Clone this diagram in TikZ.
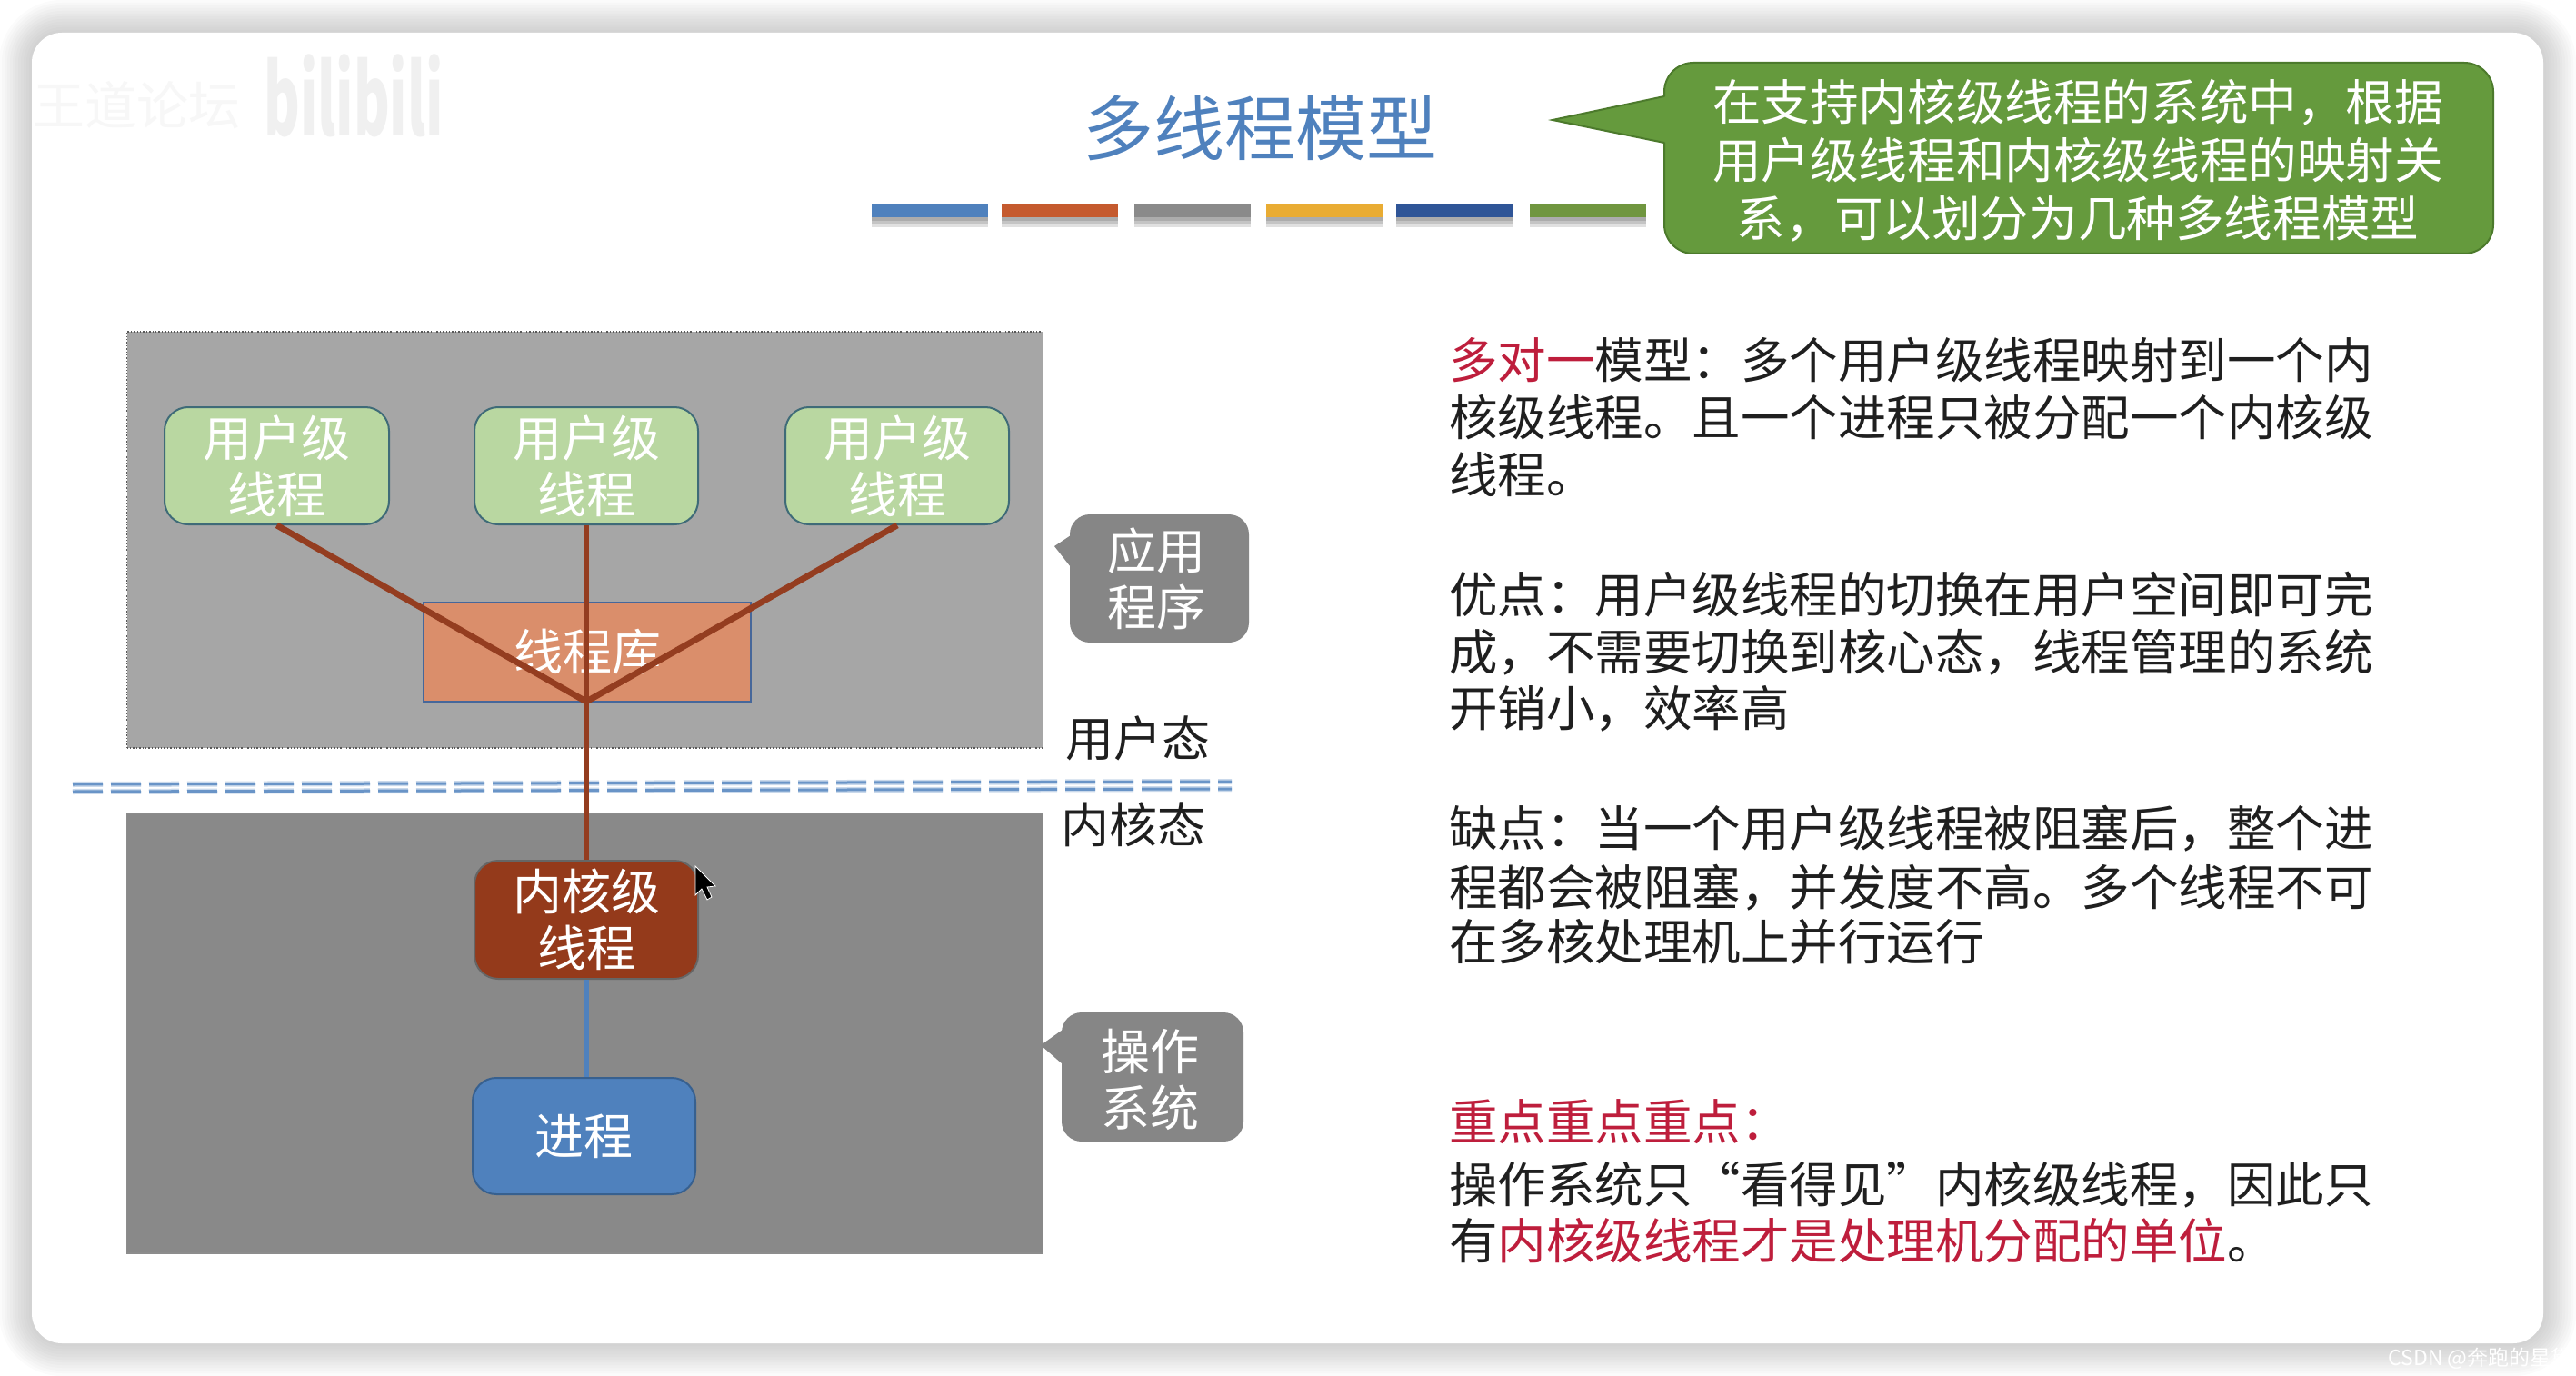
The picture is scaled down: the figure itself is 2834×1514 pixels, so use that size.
\documentclass[tikz,border=0pt]{standalone}
\usepackage{fontspec}
\setmainfont{Noto Sans CJK SC}
\definecolor{cUpper}{HTML}{A6A6A6}
\definecolor{cLower}{HTML}{898989}
\definecolor{cGreenBox}{HTML}{B9D7A1}
\definecolor{cGreenEdge}{HTML}{3F6B78}
\definecolor{cLib}{HTML}{DA8E6B}
\definecolor{cLibEdge}{HTML}{46679A}
\definecolor{cKernel}{HTML}{943A1B}
\definecolor{cBlue}{HTML}{4F81BD}
\definecolor{cBlueEdge}{HTML}{37608F}
\definecolor{cLine}{HTML}{943D20}
\definecolor{cCallout}{HTML}{659A3D}
\definecolor{cCalloutEdge}{HTML}{4C7A2C}
\definecolor{cRed}{HTML}{BE1E3C}
\definecolor{cGreyTag}{HTML}{868686}
\newcommand{\bodyfont}{\fontsize{26.75pt}{31pt}\selectfont}
\newcommand{\redtxt}[1]{\textcolor{cRed}{#1}}
\tikzset{
  region/.style={inner sep=0pt,rectangle},
  roundbox/.style={rectangle,rounded corners=13pt,inner sep=0pt,align=center,text=white,line width=1pt,font=\fontsize{27pt}{31pt}\selectfont},
  userbox/.style={roundbox,fill=cGreenBox,draw=cGreenEdge,minimum height=64.5pt},
  bodyline/.style={anchor=west,inner sep=0pt,font=\bodyfont,text height=24pt,text depth=4pt,text=black!88},
  taglabel/.style={inner sep=0pt,align=center,text=white,font=\fontsize{27pt}{31pt}\selectfont},
  modelabel/.style={inner sep=0pt,text=black!88,font=\fontsize{26.5pt}{31pt}\selectfont},
  tagshape/.style={fill=cGreyTag,draw=none},
  link/.style={cLine,line width=3.4pt},
  barshade/.style={fill=black,opacity=.12},
  dashhalo/.style={line width=3pt,color=cBlue!30,dash pattern=on 16.5pt off 4.5pt},
  dashcore/.style={line width=1.5pt,color=cBlue!85!white,dash pattern=on 16.5pt off 4.5pt},
}
\begin{document}
\begin{tikzpicture}[x=0.5pt,y=-0.5pt]
\useasboundingbox (0,0) rectangle (2834,1514);
% soft shadow and card
\foreach \g in {36,33,...,3}{
  \fill[black,opacity=.014,rounded corners={(33+\g)*.5pt}] ({35-\g},{36-\g}) rectangle ({2798+\g},{1478+\g});
}
\fill[white,rounded corners=16.5pt] (35,36) rectangle (2798,1478);
% watermarks
\node[inner sep=0pt,anchor=west,text=black!3,font=\fontsize{28.5pt}{30pt}\selectfont] (wmA) at (36,116) {王道论坛};
\node[inner sep=0pt,text=black!6,xscale=.56,font=\fontsize{54pt}{60pt}\selectfont\bfseries] (wmB) at (389,105) {bilibili};
\node[inner sep=0pt,anchor=west,text=white,font=\fontsize{11.5pt}{14pt}\selectfont] (wmC) at (2627,1495) {CSDN @奔跑的星黛};
% title
\node[inner sep=0pt,text=cBlue,font=\fontsize{39pt}{42pt}\selectfont] (title) at (1386,141) {多线程模型};
% title bars
\foreach \bx/\bc in {1023/4F81BD,1165.5/C55A2E,1312/8A8A8A,1456.5/E9AC33,1600/2F5597,1747/70963F}{
  \definecolor{barc}{HTML}{\bc}
  \fill[barshade] ({\bx-64},239) rectangle ({\bx+64},250);
  \fill[barshade] ({\bx-64},239) rectangle ({\bx+64},246);
  \fill[barshade] ({\bx-64},239) rectangle ({\bx+64},243);
  \fill[barc] ({\bx-64},225) rectangle ({\bx+64},239);
}
% green callout
\node[rectangle,rounded corners=16pt,inner sep=0pt,fill=cCallout,draw=cCalloutEdge,line width=1pt,minimum width=456pt,minimum height=105pt] (introbody) at (2287,174) {};
\coordinate (tipG) at (1708,132);
\fill[cCallout] (1834,106) -- (tipG) -- (1834,157) -- cycle;
\draw[cCalloutEdge,line width=1pt] (1831,106) -- (tipG) -- (1831,157);
\node[inner sep=0pt,align=center,text=white,font=\fontsize{26.8pt}{32pt}\selectfont] (intro) at (2286,177)
  {在支持内核级线程的系统中，根据\\用户级线程和内核级线程的映射关\\系，可以划分为几种多线程模型};
% regions
\node[region,fill=cUpper,draw=black!65,line width=.7pt,densely dotted,minimum width=504pt,minimum height=229pt] (upper) at (643.5,594) {};
\node[region,fill=cLower,draw=black!45,line width=.7pt,minimum width=504pt,minimum height=242pt] (lower) at (643.5,1137) {};
% boxes
\node[userbox,minimum width=123.5pt] (u1) at (304.5,512.5) {用户级\\线程};
\node[userbox,minimum width=123pt] (u2) at (645,512.5) {用户级\\线程};
\node[userbox,minimum width=123pt] (u3) at (987,512.5) {用户级\\线程};
\node[region,fill=cLib,draw=cLibEdge,line width=1pt,minimum width=180pt,minimum height=54.5pt,text=white,font=\fontsize{27pt}{31pt}\selectfont] (lib) at (646,717) {线程库};
\node[roundbox,fill=cKernel,draw=black!60,minimum width=123pt,minimum height=65pt] (kt) at (645,1012) {内核级\\线程};
\node[roundbox,fill=cBlue,draw=cBlueEdge,minimum width=122.5pt,minimum height=64pt] (proc) at (642.5,1250) {进程};
\coordinate (j) at (645,772);
\coordinate (dashAL) at (80,863);
\coordinate (dashAR) at (1355,860);
\coordinate (dashBL) at (80,871);
\coordinate (dashBR) at (1355,868);
% mode divider
\draw[dashhalo] (dashAL) -- (dashAR);
\draw[dashhalo] (dashBL) -- (dashBR);
\draw[dashcore] (dashAL) -- (dashAR);
\draw[dashcore] (dashBL) -- (dashBR);
% connectors
\draw[link] (u1.south) -- (j);
\draw[link] (u3.south) -- (j);
\draw[link,line width=2.7pt] (u2.south) -- (j);
\draw[link,line width=2.7pt] (j) -- (kt.north);
\draw[cBlue,line width=2.8pt] (kt.south -| j) -- (proc.north -| j);
% grey tags
\fill[tagshape,rounded corners=11pt] (1177,566) rectangle (1374,707);
\fill[tagshape] (1178,589) -- (1160,601) -- (1178,624) -- cycle;
\fill[tagshape,rounded corners=11pt] (1168,1114) rectangle (1368,1256);
\fill[tagshape] (1169,1133) -- (1145,1150) -- (1169,1171) -- cycle;
\node[taglabel] (tagA) at (1272,637) {应用\\程序};
\node[taglabel] (tagB) at (1265,1188) {操作\\系统};
\node[modelabel] (modeU) at (1252,812) {用户态};
\node[modelabel] (modeK) at (1247,907) {内核态};
% cursor
\path[fill=black,draw=white,line width=.4pt] (765,953) -- (765,985) -- (772,978) -- (778,990) -- (783,987) -- (778,976) -- (787,975) -- cycle;
% right text
\node[bodyline] (t1) at (1594,396) {\redtxt{多对一}模型：多个用户级线程映射到一个内};
\node[bodyline] (t2) at (1594,459) {核级线程。且一个进程只被分配一个内核级};
\node[bodyline] (t3) at (1594,522) {线程。};
\node[bodyline] (t4) at (1594,654) {优点：用户级线程的切换在用户空间即可完};
\node[bodyline] (t5) at (1594,717) {成，不需要切换到核心态，线程管理的系统};
\node[bodyline] (t6) at (1594,779) {开销小，效率高};
\node[bodyline] (t7) at (1594,911) {缺点：当一个用户级线程被阻塞后，整个进};
\node[bodyline] (t8) at (1594,976) {程都会被阻塞，并发度不高。多个线程不可};
\node[bodyline] (t9) at (1594,1036) {在多核处理机上并行运行};
\node[bodyline] (t10) at (1594,1234) {\redtxt{重点重点重点：}};
\node[bodyline] (t11) at (1594,1303) {操作系统只“看得见”内核级线程，因此只};
\node[bodyline] (t12) at (1594,1365) {有\redtxt{内核级线程才是处理机分配的单位}。};
\end{tikzpicture}
\end{document}
